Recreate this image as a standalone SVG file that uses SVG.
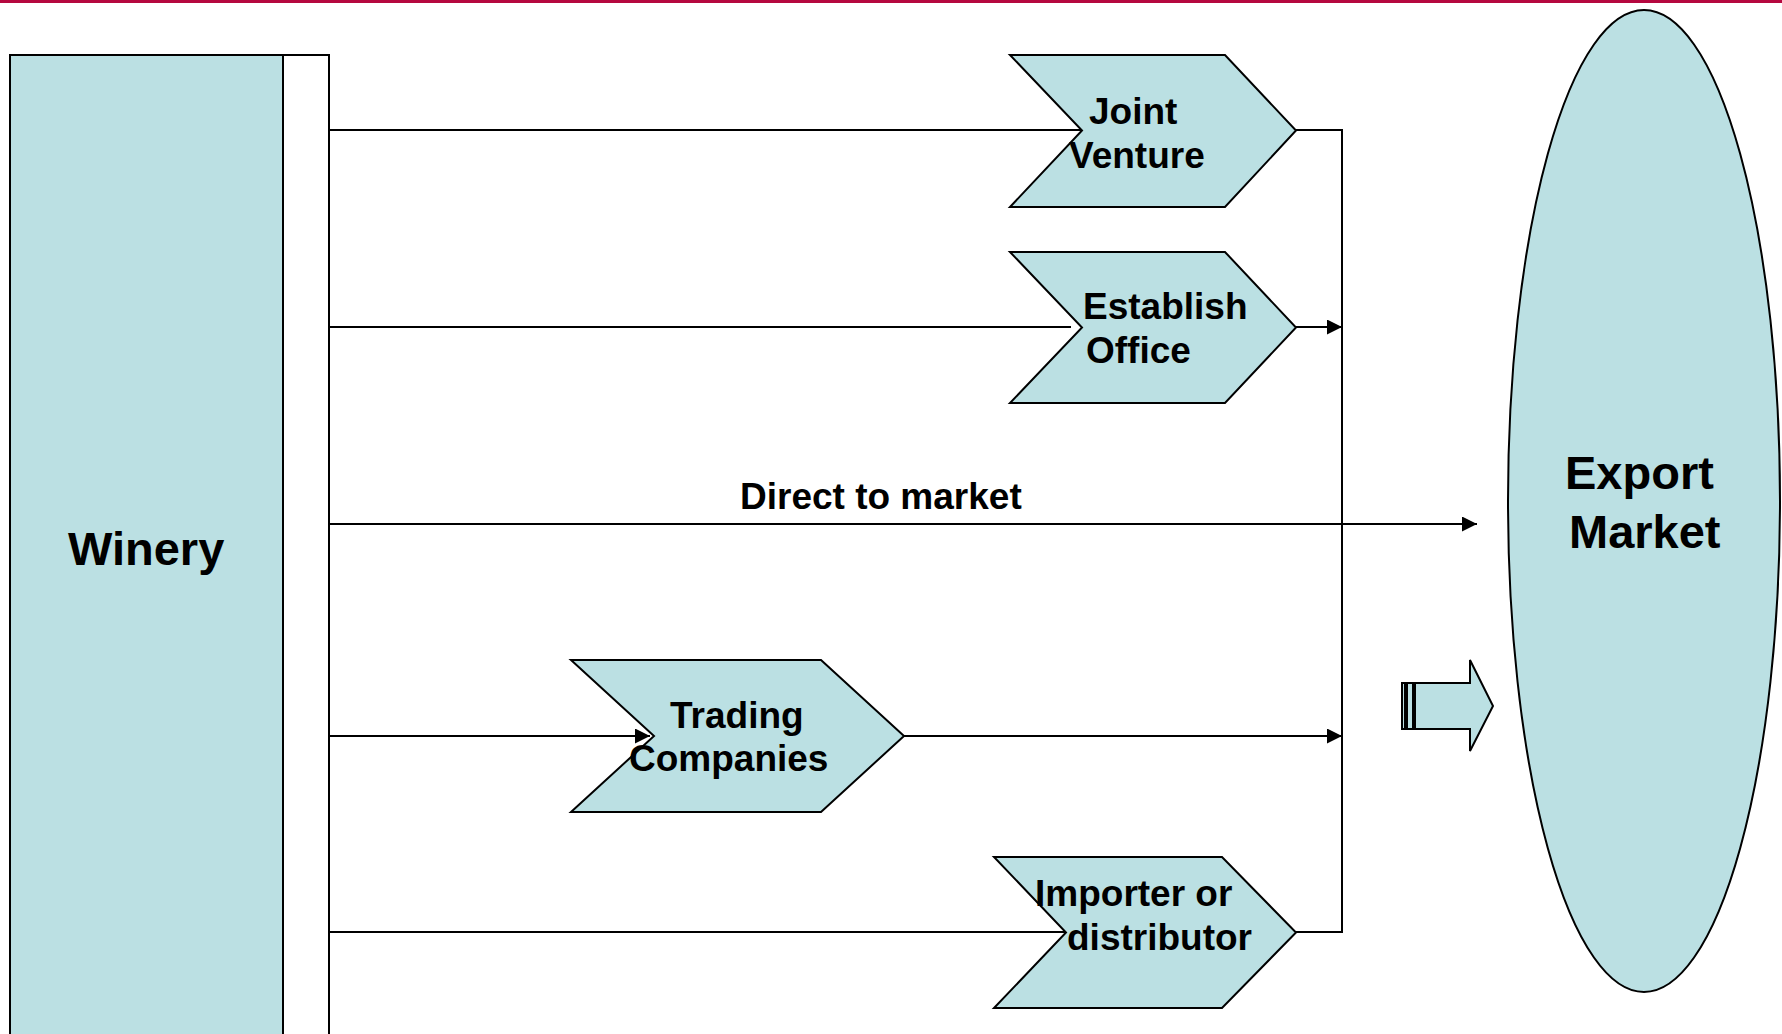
<svg xmlns="http://www.w3.org/2000/svg" width="1782" height="1034" viewBox="0 0 1782 1034">
  <style>
    .shape { fill: #bbe0e3; stroke: #000; stroke-width: 2; }
    .bar { fill: #fff; stroke: #000; stroke-width: 2; }
    .wire { fill: none; stroke: #000; stroke-width: 2; }
    .lbl { font-family: "Liberation Sans", Arial, Helvetica, sans-serif; font-weight: bold; fill: #000; }
    .s37 { font-size: 37px; }
    .s47 { font-size: 47px; }
  </style>
  <defs>
    <marker id="head" viewBox="0 0 15 15" refX="15" refY="7.5" markerWidth="15" markerHeight="15" markerUnits="userSpaceOnUse" orient="auto">
      <path d="M0,0 L15,7.5 L0,15 Z" fill="#000"/>
    </marker>
  </defs>

  <rect x="0" y="0" width="1782" height="1034" fill="#fff"/>
  <!-- header rule -->
  <rect x="0" y="0" width="1782" height="3" fill="#b5083f"/>

  <!-- connectors -->
  <g id="connectors">
    <path class="wire" d="M329,130 H1082"/>
    <path class="wire" d="M329,327 H1071"/>
    <path class="wire" d="M329,524 H1477" marker-end="url(#head)"/>
    <path class="wire" d="M329,736 H650" marker-end="url(#head)"/>
    <path class="wire" d="M329,932 H1067"/>
    <path class="wire" d="M1296,130 H1342 V932 H1296"/>
    <path class="wire" d="M1296,327 H1342" marker-end="url(#head)"/>
    <path class="wire" d="M904,736 H1342" marker-end="url(#head)"/>
  </g>

  <g id="winery">
    <rect class="shape" x="10" y="55" width="273" height="1000"/>
    <rect class="bar" x="283" y="55" width="46" height="1000"/>
    <text class="lbl s47" x="68" y="565">Winery</text>
  </g>

  <g id="joint-venture">
    <path class="shape" d="M1010,55 H1225 L1296,130.5 L1225,207 H1010 L1082,130.5 Z"/>
    <text class="lbl s37" x="1089" y="124">Joint</text>
    <text class="lbl s37" x="1069" y="168">Venture</text>
  </g>

  <g id="establish-office">
    <path class="shape" d="M1010,252 H1225 L1296,327.5 L1225,403 H1010 L1082,327.5 Z"/>
    <text class="lbl s37" x="1083" y="319">Establish</text>
    <text class="lbl s37" x="1086" y="363">Office</text>
  </g>

  <g id="direct-to-market">
    <text class="lbl s37" x="740" y="509">Direct to market</text>
  </g>

  <g id="trading-companies">
    <path class="shape" d="M571,660 H821 L904,736 L821,812 H571 L654,736 Z"/>
    <text class="lbl s37" x="670" y="728">Trading</text>
    <text class="lbl s37" x="629" y="771">Companies</text>
  </g>

  <g id="importer-distributor">
    <path class="shape" d="M994,857 H1222 L1296,932.5 L1222,1008 H994 L1066,932.5 Z"/>
    <text class="lbl s37" x="1035" y="906">Importer or</text>
    <text class="lbl s37" x="1067" y="950">distributor</text>
  </g>

  <g id="block-arrow">
    <rect class="shape" x="1402" y="683" width="3" height="46"/>
    <rect class="shape" x="1407" y="683" width="6" height="46"/>
    <path class="shape" d="M1415,683 H1470 V660 L1493,706 L1470,751 V729 H1415 Z"/>
  </g>

  <g id="export-market">
    <ellipse class="shape" cx="1644" cy="501" rx="136" ry="491"/>
    <text class="lbl s47" x="1565" y="489">Export</text>
    <text class="lbl s47" x="1569" y="548">Market</text>
  </g>
</svg>
